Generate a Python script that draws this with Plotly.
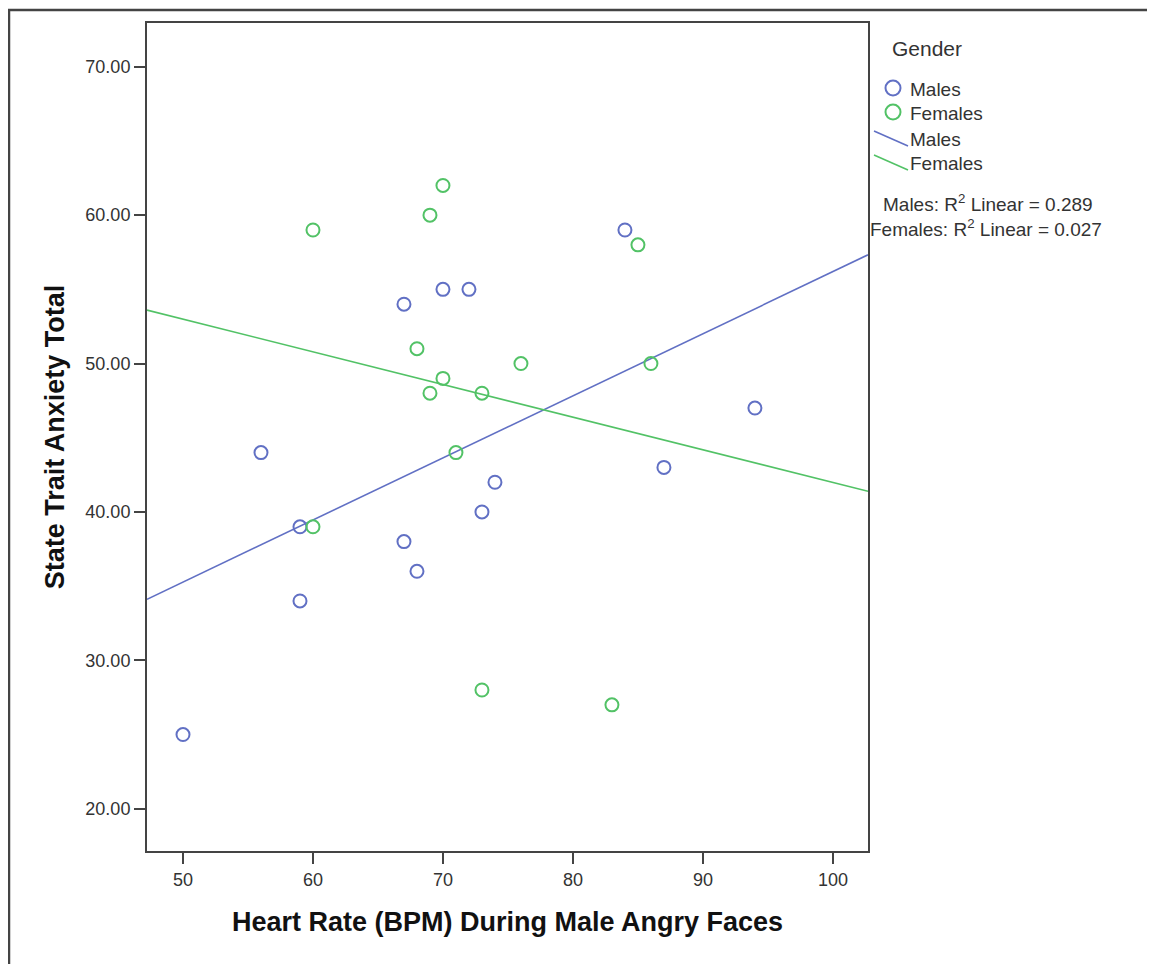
import numpy as np
import plotly.graph_objects as go

# ---- data ----
male_hr = [50, 56, 59, 59, 67, 67, 68, 70, 72, 73, 74, 84, 87, 94]
male_anx = [25, 44, 39, 34, 54, 38, 36, 55, 55, 40, 42, 59, 43, 47]
female_hr = [60, 60, 68, 69, 69, 70, 70, 71, 73, 73, 76, 83, 85, 86]
female_anx = [59, 39, 51, 60, 48, 62, 49, 44, 48, 28, 50, 27, 58, 50]
x_ticks = [50, 60, 70, 80, 90, 100]
y_ticks = [20, 30, 40, 50, 60, 70]

X_RANGE = [47.23, 102.7]
Y_RANGE = [17.15, 72.95]

BLUE = "#6170C4"
GREEN = "#52C266"
FONT = "Liberation Sans, Arial, sans-serif"
TXT = "#333333"

OFF = 8  # page body margin offset
W, H = 1155, 964
# target screen pixels of plot area: x 147..868, y 23..851
L, T = 147 - OFF, 23 - OFF
R = W - (868 - OFF)
B = H - (851 - OFF)
PW, PH = W - L - R, H - T - B


def px(x):
    return (x - OFF - L) / PW


def py(y):
    return (H - B - (y - OFF)) / PH


def fit(xs, ys):
    m, c = np.polyfit(xs, ys, 1)
    xx = np.array(X_RANGE)
    r = np.corrcoef(xs, ys)[0, 1]
    return xx, m * xx + c, r ** 2


fig = go.Figure()

mx, my, mr2 = fit(male_hr, male_anx)
fx, fy, fr2 = fit(female_hr, female_anx)

fig.add_trace(go.Scatter(x=mx, y=my, mode="lines", line=dict(color=BLUE, width=1.6),
                         showlegend=False, hoverinfo="skip"))
fig.add_trace(go.Scatter(x=fx, y=fy, mode="lines", line=dict(color=GREEN, width=1.6),
                         showlegend=False, hoverinfo="skip"))
fig.add_trace(go.Scatter(x=male_hr, y=male_anx, mode="markers", name="Males",
                         marker=dict(symbol="circle-open", size=13, color=BLUE,
                                     line=dict(width=2, color=BLUE)),
                         showlegend=False))
fig.add_trace(go.Scatter(x=female_hr, y=female_anx, mode="markers", name="Females",
                         marker=dict(symbol="circle-open", size=13, color=GREEN,
                                     line=dict(width=2, color=GREEN)),
                         showlegend=False))

shapes = []
annotations = []

# outer frame (left and top)
shapes.append(dict(type="line", xref="paper", yref="paper", x0=px(9), x1=px(9),
                   y0=py(10), y1=py(H + 20), line=dict(color="#444444", width=2.5)))
shapes.append(dict(type="line", xref="paper", yref="paper", x0=px(8), x1=px(W + 20),
                   y0=py(10), y1=py(10), line=dict(color="#444444", width=2.5)))

# manual legend
annotations.append(dict(xref="paper", yref="paper", x=px(890), y=py(48), xanchor="left",
                        yanchor="middle", text="Gender", showarrow=False,
                        font=dict(family=FONT, size=21, color=TXT)))
for cy, col, label in [(88, BLUE, "Males"), (112, GREEN, "Females")]:
    shapes.append(dict(type="circle", xref="paper", yref="paper", xsizemode="pixel",
                       ysizemode="pixel", xanchor=px(893), yanchor=py(cy),
                       x0=-7.5, x1=7.5, y0=-7.5, y1=7.5, line=dict(color=col, width=2)))
    annotations.append(dict(xref="paper", yref="paper", x=px(908), y=py(cy + 1),
                            xanchor="left", yanchor="middle", text=label, showarrow=False,
                            font=dict(family=FONT, size=19, color=TXT)))
for y0, y1, ty, col, label in [(131, 146, 140, BLUE, "Males"),
                               (155, 170, 164, GREEN, "Females")]:
    shapes.append(dict(type="line", xref="paper", yref="paper", x0=px(874), x1=px(908),
                       y0=py(y0), y1=py(y1), line=dict(color=col, width=1.6)))
    annotations.append(dict(xref="paper", yref="paper", x=px(908), y=py(ty),
                            xanchor="left", yanchor="middle", text=label, showarrow=False,
                            font=dict(family=FONT, size=19, color=TXT)))

annotations.append(dict(xref="paper", yref="paper", x=px(988), y=py(203), xanchor="center",
                        yanchor="middle", showarrow=False,
                        text="Males: R<sup>2</sup> Linear = %.3f" % mr2,
                        font=dict(family=FONT, size=19, color=TXT)))
annotations.append(dict(xref="paper", yref="paper", x=px(986), y=py(228), xanchor="center",
                        yanchor="middle", showarrow=False,
                        text="Females: R<sup>2</sup> Linear = %.3f" % fr2,
                        font=dict(family=FONT, size=19, color=TXT)))

fig.update_layout(
    width=W, height=H,
    margin=dict(l=L, r=R, t=T, b=B),
    paper_bgcolor="white", plot_bgcolor="white",
    showlegend=False,
    shapes=shapes, annotations=annotations,
    font=dict(family=FONT, color=TXT),
)
fig.update_xaxes(
    range=X_RANGE, tickvals=x_ticks, ticktext=[str(v) for v in x_ticks],
    showgrid=False, zeroline=False, showline=True, mirror=True,
    linecolor="#444444", linewidth=2, ticks="outside", ticklen=11, tickwidth=2,
    tickcolor="#444444", tickfont=dict(family=FONT, size=18, color=TXT),
    title=dict(text="<b>Heart Rate (BPM) During Male Angry Faces</b>", standoff=24,
               font=dict(family=FONT, size=27, color="#111111")),
)
fig.update_yaxes(
    range=Y_RANGE, tickvals=y_ticks, ticktext=["%.2f" % v for v in y_ticks],
    showgrid=False, zeroline=False, showline=True, mirror=True,
    linecolor="#444444", linewidth=2, ticks="outside", ticklen=11, tickwidth=2,
    tickcolor="#444444", tickfont=dict(family=FONT, size=18, color=TXT),
    title=dict(text="<b>State Trait Anxiety Total</b>", standoff=13,
               font=dict(family=FONT, size=27, color="#111111")),
)

fig.write_html("out.html")
